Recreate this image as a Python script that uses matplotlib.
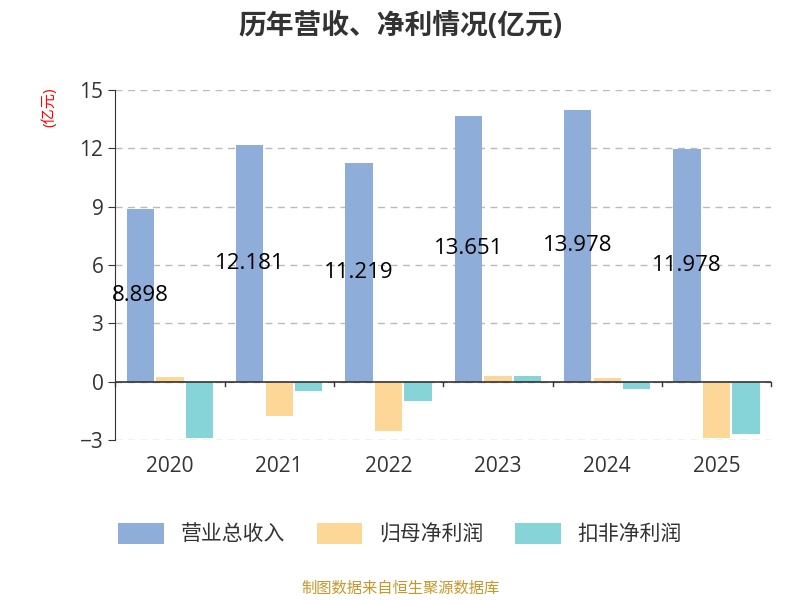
import matplotlib
matplotlib.use("Agg")
import matplotlib.pyplot as plt
import numpy as np

plt.rcParams['font.family'] = ['Open Sans', 'Noto Sans CJK SC', 'DejaVu Sans']

years = ['2020', '2021', '2022', '2023', '2024', '2025']
revenue = [8.898, 12.181, 11.219, 13.651, 13.978, 11.978]
net_profit = [0.25, -1.75, -2.55, 0.3, 0.2, -2.9]
deducted = [-2.9, -0.5, -1.0, 0.3, -0.4, -2.7]
labels = ['营业总收入', '归母净利润', '扣非净利润']
colors = ['#8eadd9', '#fdd797', '#86d4d8']

fig = plt.figure(figsize=(8, 6), dpi=100)
ax = fig.add_axes([0.144, 0.267, 0.82, 0.583])
x = np.arange(len(years))
w = 0.25
step = 0.27
for i, (vals, c, lab) in enumerate(zip([revenue, net_profit, deducted], colors, labels)):
    ax.bar(x + (i - 1) * step, vals, w, color=c, label=lab, zorder=2)
for xi, v in zip(x, revenue):
    ax.text(xi - step, v / 2, f'{v:.3f}', ha='center', va='center', fontsize=16, color='black', zorder=3)

ax.set_xlim(-0.5, 5.5)
ax.set_ylim(-3, 15)
ax.set_yticks([-3, 0, 3, 6, 9, 12, 15])
ax.yaxis.grid(True, linestyle=(0, (5, 4)), color='#bbbbbb', linewidth=1, zorder=0)
for s in ['top', 'right', 'bottom']:
    ax.spines[s].set_visible(False)
ax.spines['left'].set_color('#333333')
ax.axhline(0, color='#333333', linewidth=1.2, zorder=3)
ax.set_xticks(x)
ax.set_xticklabels(years, fontsize=15, color='#333333')
ax.tick_params(axis='x', length=0, pad=12)
ax.tick_params(axis='y', labelsize=15, colors='#333333', length=5)
for b in np.arange(-0.5, 6, 1):
    ax.plot([b, b], [0, -0.25], color='#333333', linewidth=1, clip_on=False, zorder=3)
ax.text(-0.1, 0.95, '(亿元)', transform=ax.transAxes, rotation=90, color='red', fontsize=11, ha='center', va='center')

fig.text(0.5, 0.955, '历年营收、净利情况(亿元)', ha='center', va='center', fontsize=20, fontweight='bold', color='#333333')
fig.legend(loc='center', bbox_to_anchor=(0.5, 0.11), ncol=3, frameon=False, fontsize=15,
           handlelength=2.2, handleheight=1.2, columnspacing=1.5, labelcolor='#333333')
fig.text(0.5, 0.018, '制图数据来自恒生聚源数据库', ha='center', va='center', fontsize=11, color='#c8962a')
fig.savefig('out.png')
